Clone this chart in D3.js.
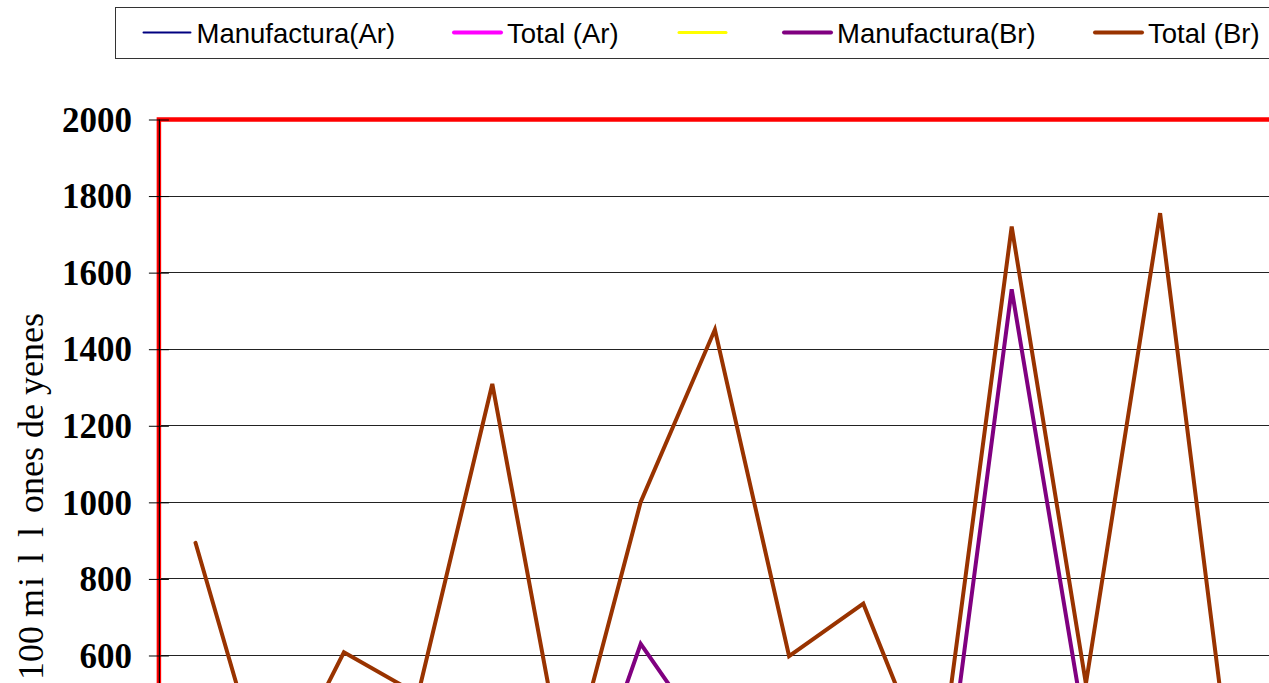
<!DOCTYPE html>
<html>
<head>
<meta charset="utf-8">
<script src="https://cdn.jsdelivr.net/npm/d3@7"></script>
<style>
  html, body { margin: 0; padding: 0; background: #fff; overflow: hidden; }
  svg { display: block; }
</style>
</head>
<body>
<script>
// ---- data ----
const categories = ["1990","1991","1992","1993","1994","1995","1996","1997","1998","1999","2000","2001","2002","2003","2004"];
const yTicks = [0, 200, 400, 600, 800, 1000, 1200, 1400, 1600, 1800, 2000];
const seriesNames = ["Manufactura(Ar)", "Total (Ar)", "", "Manufactura(Br)", "Total (Br)"];
const seriesColors = ["#000080", "#FF00FF", "#FFFF00", "#800080", "#993300"];
const manufacturaAr = [40, 30, 55, 25, 70, 20, 45, 60, 35, 50, 25, 80, 40, 65, 30];
const totalAr       = [120, 90, 150, 80, 180, 70, 130, 160, 100, 140, 90, 200, 110, 170, 95];
const unnamedSeries = [10, 15, 12, 8, 20, 10, 14, 18, 11, 16, 9, 22, 13, 19, 10];
const manufacturaBr = [300, 120, 200, 150, 400, 75, 629, 350, 250, 300, 75, 1555, 390, 450, 100];
const totalBr       = [893, 225, 607, 497, 1308, 265, 1000, 1450, 597, 734, 250, 1719, 525, 1754, 215];
const yTitle = "100 millones de yenes";

// ---- layout ----
const W = 1269, H = 1000;
const plot = { left: 158.4, right: 1271.4, top: 119, bottom: 884.7 };

const svg = d3.select("body").append("svg").attr("width", W).attr("height", H);

const x = d3.scaleBand().domain(categories).range([plot.left, plot.right]).padding(0);
const y = d3.scaleLinear().domain([0, 2000]).range([plot.bottom, plot.top]);
const cx = d => x(d) + x.bandwidth() / 2;

// gridlines
svg.append("g").selectAll("line").data(yTicks.filter(t => t > 0 && t < 2000)).join("line")
  .attr("x1", plot.left).attr("x2", plot.right)
  .attr("y1", d => Math.round(y(d)) + 0.5).attr("y2", d => Math.round(y(d)) + 0.5)
  .attr("stroke", "#222").attr("stroke-width", 1);

// red plot frame
svg.append("rect")
  .attr("x", plot.left + 0.5).attr("y", plot.top + 0.5)
  .attr("width", plot.right - plot.left).attr("height", plot.bottom - plot.top)
  .attr("fill", "none").attr("stroke", "#FF0000").attr("stroke-width", 4.5);

// y axis (black line with cross ticks)
const yAxis = d3.axisLeft(y).tickValues(yTicks).tickSize(0).tickPadding(0).tickFormat(d3.format("d"));
const gy = svg.append("g").attr("transform", `translate(${plot.left + 0.5},0)`).call(yAxis);
gy.select(".domain").attr("stroke", "#000").attr("stroke-width", 1.2);
gy.selectAll(".tick line").remove();
gy.selectAll(".tick").append("line")
  .attr("x1", -10).attr("x2", 10).attr("y1", 0.5).attr("y2", 0.5)
  .attr("stroke", "#000").attr("stroke-width", 1);
gy.selectAll(".tick text")
  .attr("x", -27).attr("dy", "0.35em")
  .attr("font-family", "'Liberation Serif', 'DejaVu Serif', serif")
  .attr("font-size", 35).attr("font-weight", "bold").attr("fill", "#000");

// x axis (below the visible region)
const xAxis = d3.axisBottom(x).tickSize(0).tickPadding(12);
const gx = svg.append("g").attr("transform", `translate(0,${plot.bottom})`).call(xAxis);
gx.select(".domain").remove();
gx.selectAll(".tick text").attr("font-family", "'Liberation Serif', serif").attr("font-size", 24);

// y title
const title = svg.append("text")
  .attr("transform", `translate(43,313) rotate(-90)`)
  .attr("text-anchor", "end")
  .attr("font-family", "'Liberation Serif', 'DejaVu Serif', serif")
  .attr("font-size", 36).attr("fill", "#000");
title.append("tspan").text("100 ");
title.append("tspan").attr("letter-spacing", 2).text("m");
title.append("tspan").attr("letter-spacing", 14).text("i");
title.append("tspan").attr("letter-spacing", 16).text("l");
title.append("tspan").attr("letter-spacing", 14).text("l");
title.append("tspan").text("ones de yenes");

// series lines
const seriesData = [manufacturaAr, totalAr, unnamedSeries, manufacturaBr, totalBr];
const seriesWidths = [2.5, 4, 3, 4, 4];
const line = d3.line().x((d, i) => cx(categories[i])).y(d => y(d));
seriesData.forEach((vals, k) => {
  svg.append("path").datum(vals)
    .attr("d", line)
    .attr("fill", "none")
    .attr("stroke", seriesColors[k])
    .attr("stroke-width", seriesWidths[k])
    .attr("stroke-linejoin", "miter")
    .attr("stroke-linecap", "round");
});

// legend
const lg = svg.append("g");
lg.append("rect").attr("x", 115.5).attr("y", 7.5).attr("width", 1200).attr("height", 51)
  .attr("fill", "#fff").attr("stroke", "#333").attr("stroke-width", 1);
const legendX = [143.5, 454, 679, 784, 1095];
seriesNames.forEach((name, k) => {
  const g = lg.append("g").attr("transform", `translate(${legendX[k]},0)`);
  g.append("line").attr("x1", 0).attr("x2", 47).attr("y1", 32.5).attr("y2", 32.5)
    .attr("stroke", seriesColors[k]).attr("stroke-width", seriesWidths[k] === 2.5 ? 2 : seriesWidths[k])
    .attr("stroke-linecap", "round");
  if (name) {
    g.append("text").attr("x", 53).attr("y", 43)
      .attr("font-family", "'Liberation Sans', Arial, sans-serif")
      .attr("font-size", 27.5).attr("fill", "#000").text(name);
  }
});
</script>
</body>
</html>
